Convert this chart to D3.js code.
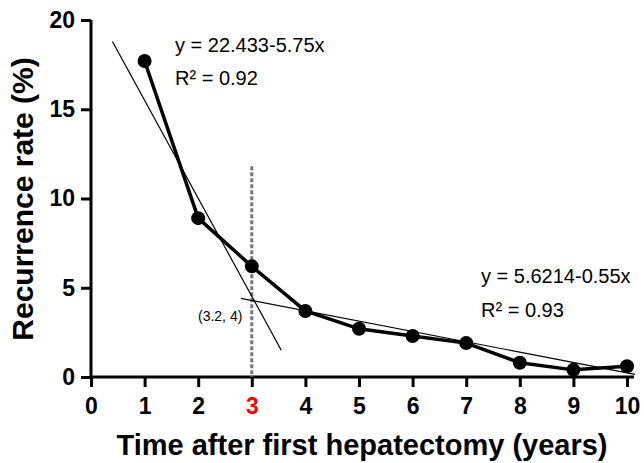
<!DOCTYPE html>
<html>
<head>
<script src="https://d3js.org/d3.v7.min.js"></script>
<style>
  body { margin: 0; background: #fff; }
  text { font-family: "Liberation Sans", Arial, sans-serif; }
</style>
</head>
<body>
<svg id="chart" width="644" height="463"></svg>
<script>
// data
const years = [1, 2, 3, 4, 5, 6, 7, 8, 9, 10];
const rates = [17.7, 8.9, 6.2, 3.7, 2.7, 2.3, 1.9, 0.8, 0.4, 0.6];
const xTicks = [0, 1, 2, 3, 4, 5, 6, 7, 8, 9, 10];
const yTicks = [0, 5, 10, 15, 20];
// fitted lines as drawn (endpoints)
const fitEarly = [[0.4, 18.8], [3.55, 1.5]];
const fitLate = [[2.8, 4.4], [10.15, 0.15]];
const cutoff = 3;
const cutoffTop = 11.8;

const svg = d3.select("#chart");
const x = d3.scaleLinear().domain([0, 10]).range([91, 627]);
const y = d3.scaleLinear().domain([0, 20]).range([377, 20]);

// axes
const xAxis = svg.append("g")
  .attr("transform", `translate(0,${y(0)})`)
  .call(d3.axisBottom(x).tickValues(xTicks).tickSize(10).tickPadding(11).tickSizeOuter(0));
const yAxis = svg.append("g")
  .attr("transform", `translate(${x(0)},0)`)
  .call(d3.axisLeft(y).tickValues(yTicks).tickSize(10).tickPadding(6).tickSizeOuter(0));

[xAxis, yAxis].forEach(g => {
  g.select(".domain").attr("stroke", "#000").attr("stroke-width", 3);
  g.selectAll(".tick line").attr("stroke", "#000").attr("stroke-width", 3);
  g.selectAll(".tick text")
    .attr("fill", "#000")
    .style("font-size", "23px")
    .style("font-weight", "bold")
    .style("font-family", "'Liberation Sans', Arial, sans-serif");
});
xAxis.select(".domain").attr("d", `M${x(0)},0H${x(10) + 7}`);
yAxis.select(".domain").attr("d", `M0,${y(20)}V${y(0)}`);
xAxis.selectAll(".tick text").filter(d => d === cutoff).attr("fill", "#ff0000");

// dashed cutoff line
svg.append("line")
  .attr("x1", x(cutoff)).attr("x2", x(cutoff))
  .attr("y1", y(cutoffTop)).attr("y2", y(0))
  .attr("stroke", "#777").attr("stroke-width", 3)
  .attr("stroke-dasharray", "4,2");

// fitted lines
const line = d3.line().x(d => x(d[0])).y(d => y(d[1]));
[fitEarly, fitLate].forEach(f => {
  svg.append("path").attr("d", line(f))
    .attr("fill", "none").attr("stroke", "#000").attr("stroke-width", 1.2);
});

// data line + points
const pts = years.map((yr, i) => [yr, rates[i]]);
svg.append("path").attr("d", line(pts))
  .attr("fill", "none").attr("stroke", "#000").attr("stroke-width", 3.5);
svg.selectAll("circle.pt").data(pts).enter().append("circle")
  .attr("class", "pt")
  .attr("cx", d => x(d[0])).attr("cy", d => y(d[1]))
  .attr("r", 7).attr("fill", "#000");

// annotations
const note = (txt, px, py, size) => svg.append("text")
  .attr("x", px).attr("y", py).text(txt)
  .style("font-size", size + "px").attr("fill", "#000");
note("y = 22.433-5.75x", 175, 52, 20);
note("R\u00b2 = 0.92", 175, 85, 20);
note("y = 5.6214-0.55x", 481, 283, 20);
note("R\u00b2 = 0.93", 481, 317, 20);
note("(3.2, 4)", 198, 321, 14);

// axis titles
svg.append("text")
  .attr("x", 362).attr("y", 455)
  .attr("text-anchor", "middle")
  .style("font-size", "29px").style("font-weight", "bold")
  .text("Time after first hepatectomy (years)");
svg.append("text")
  .attr("transform", "translate(33,199) rotate(-90)")
  .attr("text-anchor", "middle")
  .style("font-size", "30px").style("font-weight", "bold")
  .text("Recurrence rate (%)");
</script>
</body>
</html>
